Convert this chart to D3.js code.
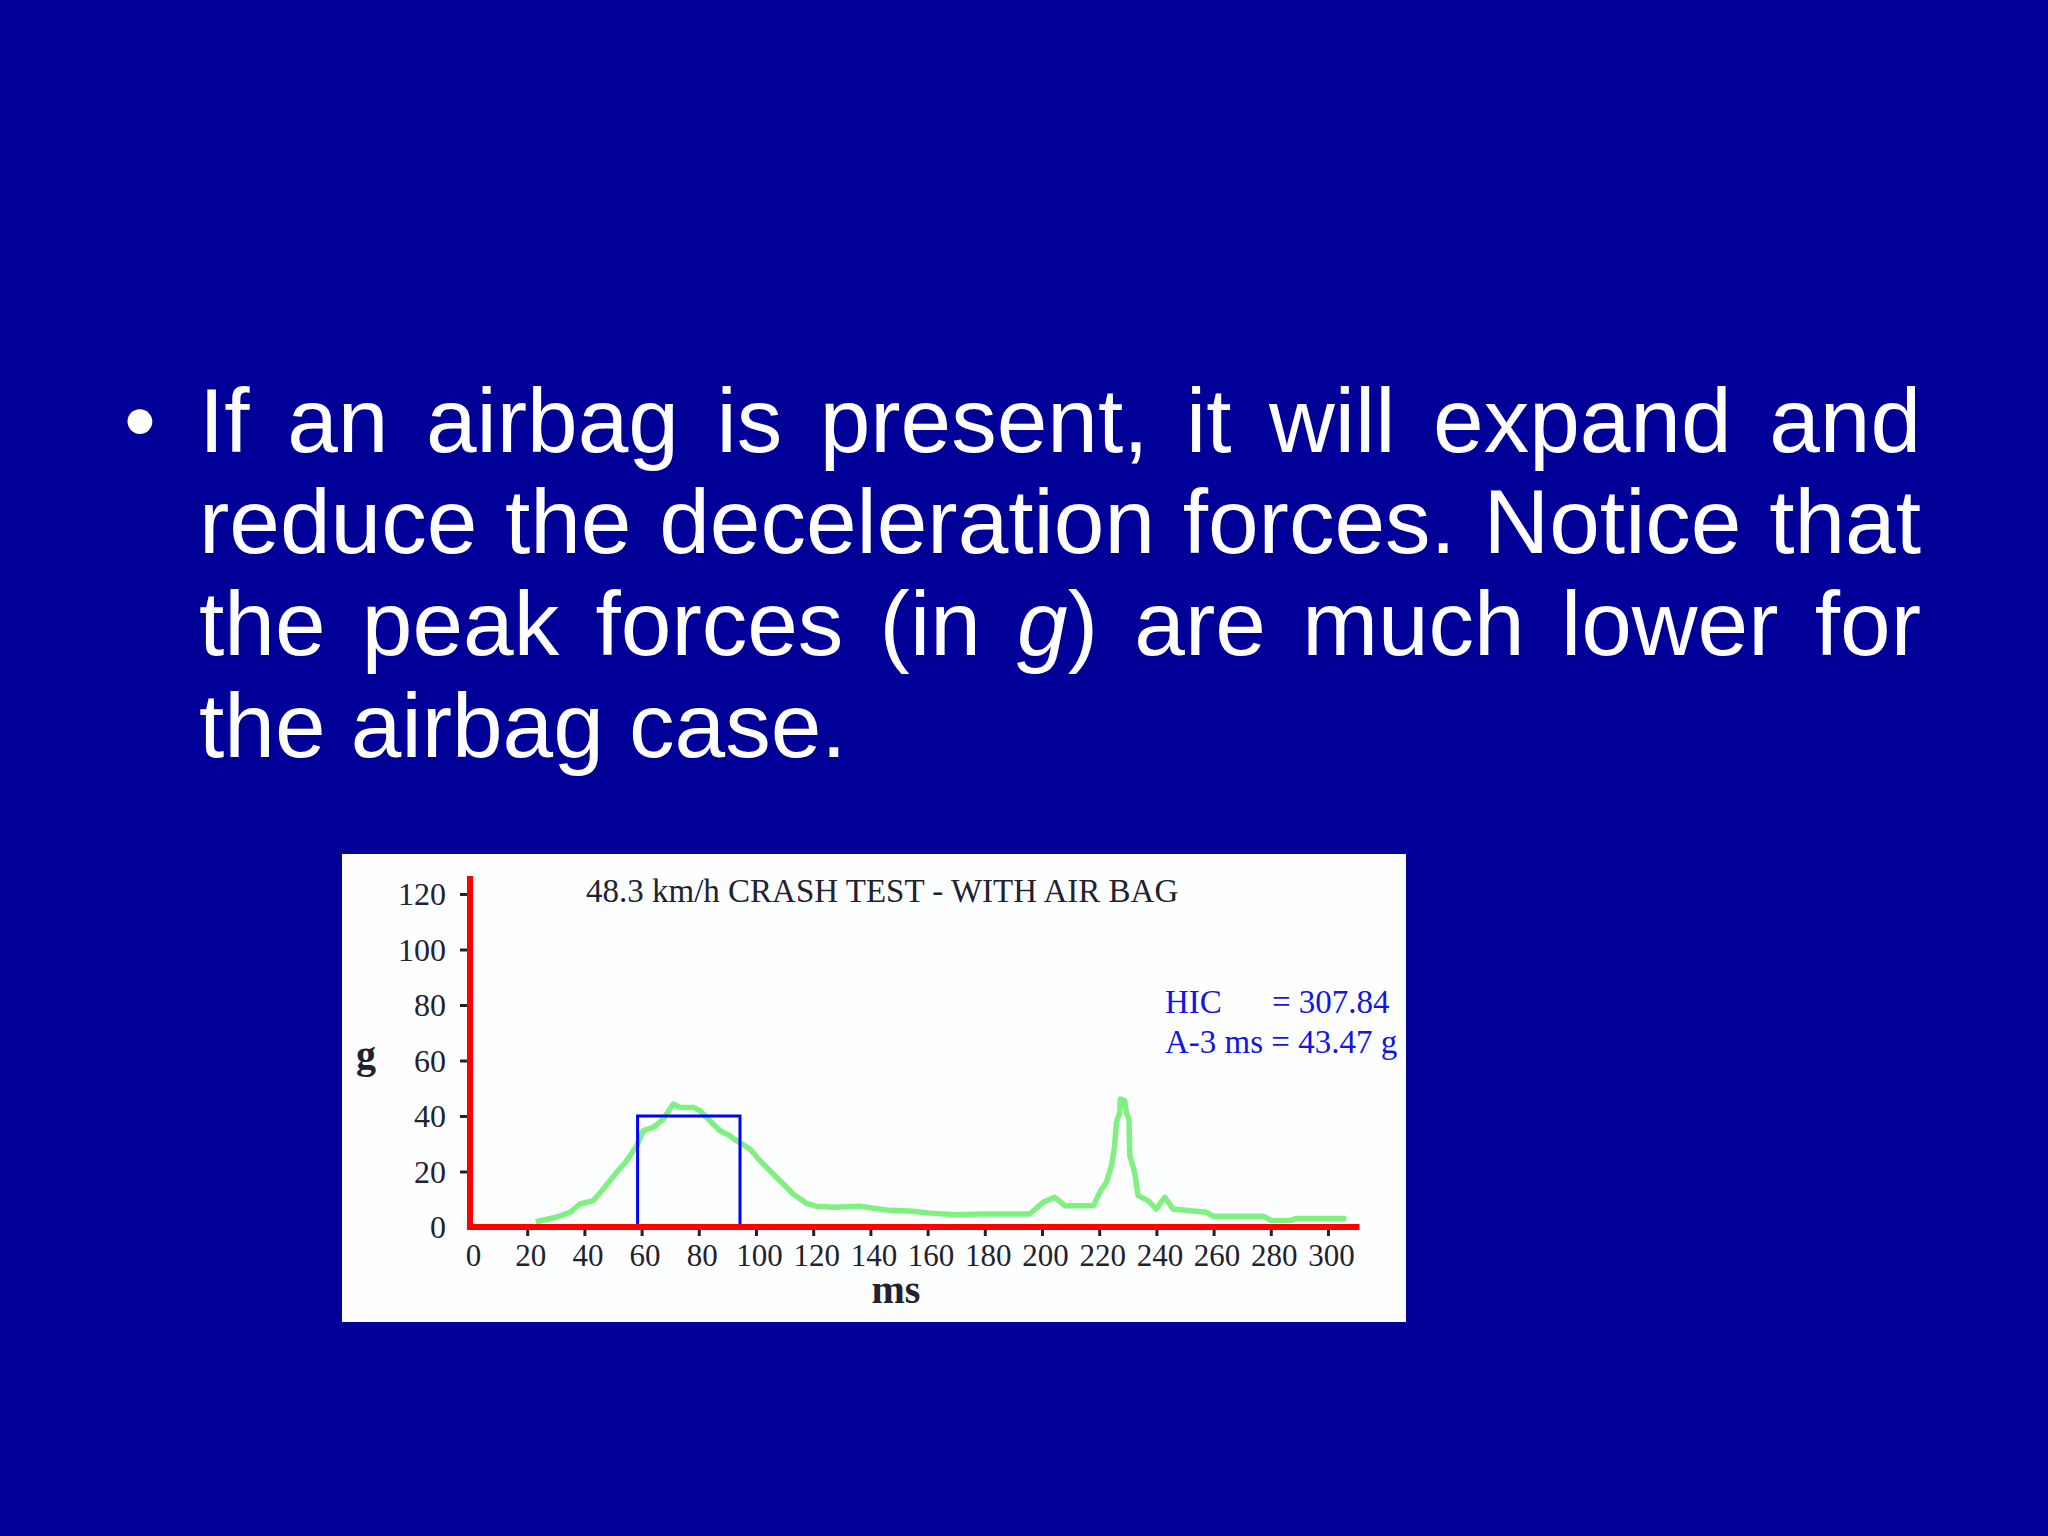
<!DOCTYPE html>
<html>
<head>
<meta charset="utf-8">
<script src="https://cdn.jsdelivr.net/npm/d3@7"></script>
<style>
    html, body { margin: 0; padding: 0; background: #000099; }
    svg { display: block; }
</style>
</head>
<body>
<div id="chart"></div>
<script>
// Slide text, *...* marks italic
const bulletLines = [
    "If an airbag is present, it will expand and",
    "reduce the deceleration forces. Notice that",
    "the peak forces (in *g*) are much lower for",
    "the airbag case."
];

// Chart data
const timeMs = [23, 30, 35, 38.4, 43.1, 46.6, 51.3, 54.8, 58.3, 60.6, 64.1, 67.6, 71.1, 73.4, 78.1, 80.4,
    83.9, 87.4, 90.9, 93.2, 97.9, 101.4, 106, 110.7, 113, 117.7, 121, 127, 136.3, 145.6, 155, 160.8,
    170.1, 178.3, 195.7, 200.4, 204.5, 208, 218, 220.2, 222.5, 224.3, 225.4, 226, 227.2, 227.4, 228.9,
    229.5, 230.4, 230.7, 232.4, 233.6, 237.1, 240, 242.9, 245.8, 257.5, 259.8, 277.3, 280.2, 286.6, 289, 306.4];
const accelG = [1.9, 3.5, 5.3, 8.3, 9.5, 13.7, 19.7, 23.9, 29.3, 34.7, 35.9, 38.9, 44.3, 43.1, 43.1, 41.9,
    38.3, 34.7, 32.9, 31.1, 28.1, 23.9, 19.1, 14.3, 11.9, 8.5, 7.5, 7.1, 7.5, 6.1, 5.7, 5.0,
    4.4, 4.7, 4.7, 8.9, 10.7, 7.7, 7.7, 12.5, 16.1, 22.1, 29.3, 37.7, 41.3, 46.1, 45.5,
    41.3, 38.9, 25.7, 19.7, 11.3, 9.5, 6.5, 10.7, 6.5, 5.3, 3.9, 3.9, 2.3, 2.3, 3.1, 3.1];

const xTicks = d3.range(0, 301, 20);
const yTicks = d3.range(0, 121, 20);
const hicWindow = [58.6, 94.4];
const hicLevel = 40;
const chartTitle = "48.3 km/h CRASH TEST - WITH AIR BAG";
const hicLabel = ["HIC", "= 307.84"];
const a3msLabel = "A-3 ms = 43.47 g";

function createSlide() {
    const W = 2048, H = 1536;
    let svg = d3.select("#chart").append("svg")
        .attr("width", W)
        .attr("height", H);

    svg.append("rect")
        .attr("width", W).attr("height", H)
        .attr("fill", "#000099");

    /* Bullet text */
    const fontSize = 91, left = 199, right = 1921, firstBase = 451.7, lineGap = 101.7;
    let textG = svg.append("g")
        .attr("font-family", "'Liberation Sans', Arial, sans-serif")
        .attr("font-size", fontSize)
        .attr("fill", "white");

    textG.append("text")
        .attr("x", 140).attr("y", firstBase)
        .attr("text-anchor", "middle")
        .text("\u2022");

    bulletLines.forEach((line, li) => {
        let baseY = firstBase + li * lineGap;
        let words = line.split(" ");
        let nodes = words.map(w => {
            let t = textG.append("text").attr("y", baseY);
            w.split(/(\*[^*]+\*)/).filter(s => s.length).forEach(s => {
                if (s.startsWith("*")) {
                    t.append("tspan").attr("font-style", "italic").text(s.slice(1, -1));
                } else {
                    t.append("tspan").text(s);
                }
            });
            return t;
        });
        let widths = nodes.map(n => n.node().getComputedTextLength());
        let total = d3.sum(widths);
        // justify every line but the last
        let gap = li < bulletLines.length - 1
            ? (right - left - total) / (words.length - 1)
            : fontSize * 0.278;
        let x = left;
        nodes.forEach((n, i) => {
            n.attr("x", x);
            x += widths[i] + gap;
        });
    });

    /* Chart panel */
    svg.append("rect")
        .attr("x", 342).attr("y", 854)
        .attr("width", 1064).attr("height", 468)
        .attr("fill", "#fdfeff");

    let xScale = d3.scaleLinear().domain([0, 300]).range([470, 1328]);
    let yScale = d3.scaleLinear().domain([0, 120]).range([1227, 894]);

    let serif = "'Liberation Serif', 'Times New Roman', serif";
    let ink = "#22222e";

    // Title
    svg.append("text")
        .attr("x", 586).attr("y", 902)
        .attr("font-family", serif).attr("font-size", 33)
        .attr("fill", ink)
        .text(chartTitle);

    // HIC values
    let hic = svg.append("g")
        .attr("font-family", serif).attr("font-size", 33)
        .attr("fill", "#1414e6");
    hic.append("text").attr("x", 1165).attr("y", 1013).text(hicLabel[0]);
    hic.append("text").attr("x", 1272).attr("y", 1013).text(hicLabel[1]);
    hic.append("text").attr("x", 1165).attr("y", 1053).text(a3msLabel);

    // Trace
    let line = d3.line()
        .x(d => xScale(d[0]))
        .y(d => yScale(d[1]));

    svg.append("path")
        .datum(d3.zip(timeMs, accelG))
        .attr("d", line)
        .attr("fill", "none")
        .attr("stroke", "#80f080")
        .attr("stroke-width", 5.5)
        .attr("stroke-linejoin", "round");

    // HIC window box
    svg.append("rect")
        .attr("x", xScale(hicWindow[0]))
        .attr("y", yScale(hicLevel))
        .attr("width", xScale(hicWindow[1]) - xScale(hicWindow[0]))
        .attr("height", yScale(0) - yScale(hicLevel))
        .attr("fill", "none")
        .attr("stroke", "#0000ff")
        .attr("stroke-width", 3);

    /* Axes */
    let yAxis = d3.axisLeft(yScale).tickValues(yTicks).tickSize(10).tickPadding(14);
    let gy = svg.append("g")
        .attr("transform", `translate(${xScale(0)}, 0)`)
        .call(yAxis);

    let xAxis = d3.axisBottom(xScale).tickValues(xTicks).tickSize(9);
    let gx = svg.append("g")
        .attr("transform", `translate(0, ${yScale(0)})`)
        .call(xAxis);

    [gx, gy].forEach(g => {
        g.select(".domain").remove();
        g.selectAll(".tick line")
            .attr("stroke", ink)
            .attr("stroke-width", 3)
            .attr("display", d => d === 0 ? "none" : null);
        g.selectAll(".tick text")
            .attr("font-family", serif)
            .attr("fill", ink);
    });
    gy.selectAll(".tick text").attr("font-size", 32).attr("dy", "0.34em");
    gx.selectAll(".tick text")
        .attr("font-size", 31)
        .attr("y", 39).attr("dy", 0)
        .attr("dx", 3);

    // Red axis lines
    svg.append("line")
        .attr("x1", xScale(0) - 3).attr("x2", xScale(311))
        .attr("y1", yScale(0)).attr("y2", yScale(0))
        .attr("stroke", "#ff0000").attr("stroke-width", 6);
    svg.append("line")
        .attr("x1", xScale(0)).attr("x2", xScale(0))
        .attr("y1", yScale(0) + 3).attr("y2", yScale(126.5))
        .attr("stroke", "#ff0000").attr("stroke-width", 6);

    // Axis titles
    svg.append("text")
        .attr("x", 896).attr("y", 1303)
        .attr("text-anchor", "middle")
        .attr("font-family", serif).attr("font-size", 40).attr("font-weight", "bold")
        .attr("fill", ink)
        .text("ms");
    svg.append("text")
        .attr("x", 366).attr("y", 1068)
        .attr("text-anchor", "middle")
        .attr("font-family", serif).attr("font-size", 40).attr("font-weight", "bold")
        .attr("fill", ink)
        .text("g");
}

createSlide();
</script>
</body>
</html>
